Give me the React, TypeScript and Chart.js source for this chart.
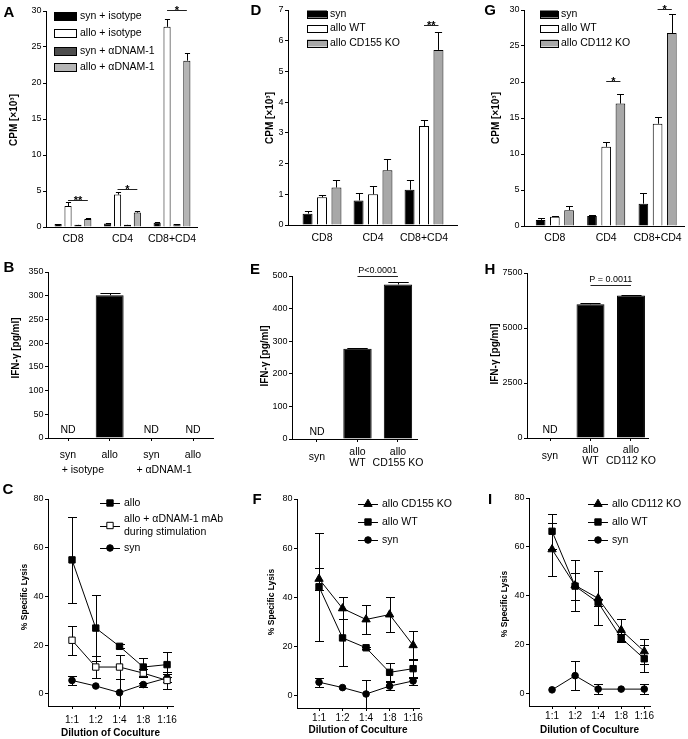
import React, { useEffect, useRef } from 'react';
import { Chart, registerables } from 'chart.js';

Chart.register(...registerables);

const FONT = '"Liberation Sans", Arial, Helvetica, sans-serif';
Chart.defaults.font.family = FONT;
Chart.defaults.color = '#000';

/* ---------------- shared tick labels ---------------- */
const groupCategories = ['CD8', 'CD4', 'CD8+CD4'];
const dilutionLabels = ['1:1', '1:2', '1:4', '1:8', '1:16'];
const lysisTicks = [0, 20, 40, 60, 80];

/* ---------------- Panel A ---------------- */
const aSeriesLabels = ['syn + isotype', 'allo + isotype', 'syn + αDNAM-1', 'allo + αDNAM-1'];
const aSynIsotype = [0.4, 0.5, 0.6];
const aSynIsotypeErr = [0.05, 0.05, 0.1];
const aAlloIsotype = [2.9, 4.5, 27.8];
const aAlloIsotypeErr = [0.55, 0.35, 1.1];
const aSynDnam = [0.3, 0.3, 0.4];
const aSynDnamErr = [0.03, 0.03, 0.05];
const aAlloDnam = [1.1, 2.0, 23.1];
const aAlloDnamErr = [0.1, 0.2, 1.0];
const aYTicks = [0, 5, 10, 15, 20, 25, 30];
const aStars = [
  { from: [1, 0], to: [3, 0], y: 3.7, text: '**' },
  { from: [1, 1], to: [3, 1], y: 5.3, text: '*' },
  { from: [1, 2], to: [3, 2], y: 30.1, text: '*' },
];

/* ---------------- Panel D ---------------- */
const dSeriesLabels = ['syn', 'allo WT', 'allo CD155 KO'];
const dSyn = [0.37, 0.8, 1.15];
const dSynErr = [0.07, 0.25, 0.3];
const dAlloWT = [0.9, 1.0, 3.22];
const dAlloWTErr = [0.07, 0.28, 0.2];
const dAlloKO = [1.22, 1.78, 5.7];
const dAlloKOErr = [0.25, 0.38, 0.58];
const dYTicks = [0, 1, 2, 3, 4, 5, 6, 7];
const dStars = [{ from: [1, 2], to: [2, 2], y: 6.5, text: '**' }];

/* ---------------- Panel G ---------------- */
const gSeriesLabels = ['syn', 'allo WT', 'allo CD112 KO'];
const gSyn = [0.85, 1.4, 3.1];
const gSynErr = [0.3, 0.1, 1.5];
const gAlloWT = [1.3, 11.0, 14.2];
const gAlloWTErr = [0.1, 0.6, 0.9];
const gAlloKO = [2.2, 17.0, 26.8];
const gAlloKOErr = [0.6, 1.4, 2.7];
const gYTicks = [0, 5, 10, 15, 20, 25, 30];
const gStars = [
  { from: [1, 1], to: [2, 1], y: 20.2, text: '*' },
  { from: [1, 2], to: [2, 2], y: 30.2, text: '*' },
];

/* ---------------- Panel B ---------------- */
const bCategories = ['syn', 'allo', 'syn', 'allo'];
const bGroupLabels = ['+ isotype', '+ αDNAM-1'];
const bIfn = [null, 301, null, null];
const bIfnErr = [0, 4, 0, 0];
const bYTicks = [0, 50, 100, 150, 200, 250, 300, 350];

/* ---------------- Panel E ---------------- */
const eCategories = ['syn', ['allo', 'WT'], ['allo', 'CD155 KO']];
const eIfn = [null, 277, 474];
const eIfnErr = [0, 3, 7];
const eYTicks = [0, 100, 200, 300, 400, 500];
const ePValue = [{ from: [0, 1], to: [0, 2], y: 500, text: 'P<0.0001' }];

/* ---------------- Panel H ---------------- */
const hCategories = ['syn', ['allo', 'WT'], ['allo', 'CD112 KO']];
const hIfn = [null, 6080, 6480];
const hIfnErr = [0, 70, 25];
const hYTicks = [0, 2500, 5000, 7500];
const hPValue = [{ from: [0, 1], to: [0, 2], y: 6950, text: 'P = 0.0011' }];

/* ---------------- Panel C ---------------- */
const cSeriesLabels = ['allo', 'allo + αDNAM-1 mAb\nduring stimulation', 'syn'];
const cAllo = [55, 27, 19.5, 11, 12];
const cAlloErr = [17.5, 13.5, 0.8, 3.7, 5];
const cAlloDnam = [22, 11, 11, 8.5, 5.5];
const cAlloDnamErr = [6, 4.5, 5, 1.5, 3.5];
const cSyn = [5.5, 3.2, 0.5, 3.8, 6.5];
const cSynErr = [2, 0, 5.5, 0.8, 1.5];

/* ---------------- Panel F ---------------- */
const fSeriesLabels = ['allo CD155 KO', 'allo WT', 'syn'];
const fAlloKO = [47.5, 35.5, 31, 33, 20.5];
const fAlloKOErr = [4.6, 4.5, 6, 7, 5.8];
const fAlloWT = [44.3, 23.5, 19.5, 9.5, 11];
const fAlloWTErr = [22, 11.5, 0.5, 3.7, 4];
const fSyn = [5.5, 3.3, 0.7, 3.9, 6];
const fSynErr = [1.8, 0, 5.5, 1.5, 1.8];

/* ---------------- Panel I ---------------- */
const iSeriesLabels = ['allo CD112 KO', 'allo WT', 'syn'];
const iAlloKO = [59, 44.3, 39, 26, 17.3];
const iAlloKOErr = [10.8, 10.4, 11, 4.6, 5];
const iAlloWT = [66.4, 44, 37.3, 22.8, 14.3];
const iAlloWTErr = [7.2, 5.5, 1.5, 1.5, 5.5];
const iSyn = [1.6, 7.4, 1.9, 1.9, 1.9];
const iSynErr = [0, 6, 2.2, 0, 2];

/* ---------------- helpers ---------------- */
type Box = { x: number; y: number; w: number; h: number };
type Area = { l: number; t: number; r: number; b: number };

function drawMarker(ctx: any, style: string, x: number, y: number, r: number, fill: string) {
  ctx.beginPath();
  if (style === 'rect') {
    const s = Math.SQRT1_2 * r;
    ctx.rect(x - s, y - s, 2 * s, 2 * s);
  } else if (style === 'triangle') {
    let rad = 0;
    ctx.moveTo(x + Math.sin(rad) * r, y - Math.cos(rad) * r);
    rad += (2 * Math.PI) / 3;
    ctx.lineTo(x + Math.sin(rad) * r, y - Math.cos(rad) * r);
    rad += (2 * Math.PI) / 3;
    ctx.lineTo(x + Math.sin(rad) * r, y - Math.cos(rad) * r);
    ctx.closePath();
  } else {
    ctx.arc(x, y, r, 0, Math.PI * 2);
  }
  ctx.fillStyle = fill;
  ctx.fill();
  ctx.lineWidth = 1;
  ctx.strokeStyle = '#000';
  ctx.stroke();
}

function drawErrors(chart: any, type: string) {
  const ctx = chart.ctx;
  const ys = chart.scales.y;
  const a = chart.chartArea;
  ctx.save();
  ctx.beginPath();
  ctx.rect(a.left - 20, 0, a.right - a.left + 40, a.bottom);
  ctx.clip();
  ctx.strokeStyle = '#000';
  ctx.lineWidth = 1;
  chart.data.datasets.forEach((ds: any, di: number) => {
    const errs = ds.errors;
    if (!errs) return;
    const meta = chart.getDatasetMeta(di);
    if (meta.type !== type) return;
    meta.data.forEach((el: any, i: number) => {
      const v = ds.data[i].y;
      const e = errs[i];
      if (v == null || !e) return;
      const x = Math.round(el.x) + 0.5;
      const yv = ys.getPixelForValue(v);
      const yt = Math.round(ys.getPixelForValue(v + e)) + 0.5;
      const yb = Math.round(ys.getPixelForValue(v - e)) + 0.5;
      ctx.beginPath();
      if (type === 'bar') {
        const hw = el.width * 0.36;
        ctx.moveTo(x, yv);
        ctx.lineTo(x, yt);
        ctx.moveTo(x - hw, yt);
        ctx.lineTo(x + hw, yt);
      } else {
        const hw = 4.5;
        ctx.moveTo(x, yb);
        ctx.lineTo(x, yt);
        ctx.moveTo(x - hw, yt);
        ctx.lineTo(x + hw, yt);
        ctx.moveTo(x - hw, yb);
        ctx.lineTo(x + hw, yb);
      }
      ctx.stroke();
    });
  });
  ctx.restore();
}

function makeDecor(d: any) {
  const ox = d.box.x;
  const oy = d.box.y;
  return {
    id: 'decor',
    beforeDatasetsDraw(chart: any) {
      drawErrors(chart, 'line');
    },
    afterDatasetsDraw(chart: any) {
      drawErrors(chart, 'bar');
    },
    afterDraw(chart: any) {
      const ctx = chart.ctx;
      const xs = chart.scales.x;
      const ys = chart.scales.y;
      const area = chart.chartArea;
      ctx.save();
      ctx.fillStyle = '#000';
      ctx.strokeStyle = '#000';
      // panel letter
      ctx.font = `bold 15px ${FONT}`;
      ctx.textAlign = 'center';
      ctx.textBaseline = 'alphabetic';
      ctx.fillText(d.letter.text, d.letter.x - ox, d.letter.y - oy + 5.5);
      // y title
      ctx.save();
      ctx.translate(d.yTitle.x - ox, d.yTitle.y - oy);
      ctx.rotate(-Math.PI / 2);
      ctx.font = `bold ${d.yTitle.size}px ${FONT}`;
      ctx.textAlign = 'center';
      ctx.textBaseline = 'middle';
      ctx.fillText(d.yTitle.text, 0, 0);
      ctx.restore();
      // legend
      if (d.legend) {
        const L = d.legend;
        chart.data.datasets.forEach((ds: any, di: number) => {
          const meta = chart.getDatasetMeta(di);
          const cy = L.rows[di] - oy;
          if (meta.type === 'bar') {
            const x0 = L.x0 - ox;
            ctx.fillStyle = ds.backgroundColor;
            ctx.fillRect(x0, cy - L.boxH / 2, L.x1 - L.x0, L.boxH);
            ctx.lineWidth = 1;
            ctx.strokeStyle = '#000';
            ctx.strokeRect(Math.round(x0) + 0.5, Math.round(cy - L.boxH / 2) + 0.5, L.x1 - L.x0, L.boxH);
          } else {
            ctx.lineWidth = 1;
            ctx.strokeStyle = '#000';
            ctx.beginPath();
            ctx.moveTo(L.x0 - ox, Math.round(cy) + 0.5);
            ctx.lineTo(L.x1 - ox, Math.round(cy) + 0.5);
            ctx.stroke();
            drawMarker(ctx, ds.pointStyle, (L.x0 + L.x1) / 2 - ox, cy, ds.pointRadius, ds.pointBackgroundColor);
          }
          ctx.fillStyle = '#000';
          ctx.font = `10.5px ${FONT}`;
          ctx.textAlign = 'left';
          ctx.textBaseline = 'middle';
          const lines = String(ds.label).split('\n');
          lines.forEach((t: string, li: number) => {
            ctx.fillText(t, L.textX - ox, cy + (li - (lines.length - 1) / 2) * L.lineGap);
          });
        });
      }
      // significance brackets
      (d.brackets || []).forEach((b: any) => {
        const e1 = chart.getDatasetMeta(b.from[0]).data[b.from[1]];
        const e2 = chart.getDatasetMeta(b.to[0]).data[b.to[1]];
        const y = Math.round(ys.getPixelForValue(b.y)) + 0.5;
        ctx.strokeStyle = '#222';
        ctx.lineWidth = 1;
        ctx.beginPath();
        ctx.moveTo(e1.x, y);
        ctx.lineTo(e2.x, y);
        ctx.stroke();
        ctx.fillStyle = '#000';
        ctx.font = `${d.bracketFont} ${FONT}`;
        ctx.textAlign = 'center';
        ctx.textBaseline = 'alphabetic';
        ctx.fillText(b.text, (e1.x + e2.x) / 2, y + d.bracketDy);
      });
      // not detected labels
      if (d.nd) {
        const ds = chart.data.datasets[0];
        ctx.fillStyle = '#000';
        ctx.font = `10.5px ${FONT}`;
        ctx.textAlign = 'center';
        ctx.textBaseline = 'middle';
        ds.data.forEach((pt: any, i: number) => {
          if (pt.y == null) ctx.fillText('ND', xs.getPixelForValue(i), area.bottom - d.nd.dy);
        });
      }
      // group labels under categories
      (d.groups || []).forEach((g: any) => {
        ctx.fillStyle = '#000';
        ctx.font = `10.5px ${FONT}`;
        ctx.textAlign = 'center';
        ctx.textBaseline = 'middle';
        const x = (xs.getPixelForValue(g.from) + xs.getPixelForValue(g.to)) / 2 + g.shift;
        ctx.fillText(g.text, x, g.y - oy);
      });
      ctx.restore();
    },
  };
}

function xAxis(o: any) {
  return {
    type: 'linear',
    position: 'bottom',
    bounds: 'data',
    min: o.min,
    max: o.max,
    offset: false,
    afterBuildTicks: (s: any) => {
      s.ticks = o.labels.map((_: any, i: number) => ({ value: i }));
    },
    afterFit: (s: any) => {
      s.height = o.height;
    },
    grid: {
      display: true,
      offset: false,
      drawOnChartArea: false,
      drawTicks: o.drawTicks,
      tickLength: 3,
      tickWidth: 1,
      tickColor: '#000',
      color: '#000',
    },
    border: { display: true, color: '#000', width: 1 },
    ticks: {
      autoSkip: false,
      maxRotation: 0,
      minRotation: 0,
      padding: o.pad,
      crossAlign: o.crossAlign || 'near',
      color: '#000',
      font: { size: o.fontSize, lineHeight: o.lineHeight || 1.2 },
      callback: (_v: any, i: number) => o.labels[i],
    },
    title: o.title
      ? {
          display: true,
          text: o.title,
          color: '#000',
          font: { size: 10, weight: 'bold' },
          padding: { top: 0, bottom: o.titlePad },
        }
      : { display: false },
  };
}

function yAxis(o: any) {
  return {
    type: 'linear',
    position: 'left',
    bounds: 'data',
    min: o.min,
    max: o.max,
    afterBuildTicks: (s: any) => {
      s.ticks = o.ticks.map((v: number) => ({ value: v }));
    },
    afterFit: (s: any) => {
      s.width = o.width;
    },
    grid: {
      display: true,
      drawOnChartArea: false,
      drawTicks: true,
      tickLength: 3,
      tickWidth: 1,
      tickColor: '#000',
      color: '#000',
    },
    border: { display: true, color: '#000', width: 1 },
    ticks: {
      padding: 1.5,
      color: '#000',
      font: { size: 9 },
      callback: (v: any) => String(v),
    },
  };
}

function baseOptions(box: Box, area: Area, scales: any) {
  return {
    responsive: false,
    maintainAspectRatio: false,
    animation: false,
    devicePixelRatio: 1,
    events: [],
    layout: {
      autoPadding: false,
      padding: { top: area.t - box.y, right: box.x + box.w - area.r, bottom: 0, left: 0 },
    },
    plugins: { legend: { display: false }, tooltip: { enabled: false }, title: { display: false } },
    scales,
  };
}

function barSpec(p: any) {
  const { box, area } = p;
  return {
    box,
    build: () => ({
      type: 'bar',
      data: {
        datasets: p.series.map((s: any) => ({
          type: 'bar',
          label: s.label,
          data: s.values.map((v: any, i: number) => ({ x: i, y: v })),
          errors: s.errors,
          backgroundColor: s.color,
          borderColor: '#000',
          borderWidth: 1,
          borderSkipped: 'start',
          categoryPercentage: p.catPct,
          barPercentage: p.barPct,
        })),
      },
      options: baseOptions(box, area, {
        x: xAxis({
          min: p.xMin,
          max: p.xMax,
          labels: p.categories,
          height: box.y + box.h - area.b,
          drawTicks: p.xTicks,
          pad: p.xPad,
          crossAlign: p.crossAlign,
          fontSize: 10.5,
          lineHeight: p.lineHeight,
        }),
        y: yAxis({ min: p.yTicks[0], max: p.yTicks[p.yTicks.length - 1], ticks: p.yTicks, width: area.l - box.x }),
      }),
      plugins: [makeDecor({ ...p.decor, box })],
    }),
  };
}

function lineSpec(p: any) {
  const { box, area } = p;
  return {
    box,
    build: () => ({
      type: 'line',
      data: {
        datasets: p.series.map((s: any) => ({
          type: 'line',
          label: s.label,
          data: s.values.map((v: number, i: number) => ({ x: i, y: v })),
          errors: s.errors,
          borderColor: '#000',
          borderWidth: 1,
          tension: 0,
          fill: false,
          pointStyle: s.style,
          pointRadius: s.radius,
          pointBackgroundColor: s.fill,
          pointBorderColor: '#000',
          pointBorderWidth: 1,
        })),
      },
      options: baseOptions(box, area, {
        x: xAxis({
          min: p.xMin,
          max: 4.25,
          labels: dilutionLabels,
          height: box.y + box.h - area.b,
          drawTicks: true,
          pad: p.xPad,
          fontSize: 10,
          title: 'Dilution of Coculture',
          titlePad: p.titlePad,
        }),
        y: yAxis({ min: -5, max: 80, ticks: lysisTicks, width: area.l - box.x }),
      }),
      plugins: [makeDecor({ ...p.decor, box })],
    }),
  };
}

const BLACK = '#000000';
const WHITE = '#ffffff';
const DARK = '#4d4d4d';
const LIGHT = '#b5b5b5';
const GRAY = '#a8a8a8';

const starDecor = { bracketFont: 'bold 11px', bracketDy: 3 };
const pDecor = { bracketFont: '9px', bracketDy: -4 };

const specs = [
  barSpec({
    box: { x: 0, y: 0, w: 230, h: 250 },
    area: { l: 46, t: 11, r: 197, b: 227 },
    categories: groupCategories,
    series: [
      { label: aSeriesLabels[0], values: aSynIsotype, errors: aSynIsotypeErr, color: BLACK },
      { label: aSeriesLabels[1], values: aAlloIsotype, errors: aAlloIsotypeErr, color: WHITE },
      { label: aSeriesLabels[2], values: aSynDnam, errors: aSynDnamErr, color: DARK },
      { label: aSeriesLabels[3], values: aAlloDnam, errors: aAlloDnamErr, color: LIGHT },
    ],
    xMin: -0.545,
    xMax: 2.505,
    yTicks: aYTicks,
    catPct: 0.8,
    barPct: 0.72,
    xTicks: false,
    xPad: 6,
    decor: {
      letter: { text: 'A', x: 9, y: 11 },
      yTitle: { text: 'CPM [×10³]', x: 14, y: 120, size: 10 },
      legend: { x0: 54, x1: 76, textX: 80, rows: [16, 33, 51, 67], boxH: 8, lineGap: 12 },
      brackets: aStars,
      ...starDecor,
    },
  }),
  barSpec({
    box: { x: 230, y: 0, w: 228, h: 250 },
    area: { l: 288, t: 10, r: 457, b: 225 },
    categories: groupCategories,
    series: [
      { label: dSeriesLabels[0], values: dSyn, errors: dSynErr, color: BLACK },
      { label: dSeriesLabels[1], values: dAlloWT, errors: dAlloWTErr, color: WHITE },
      { label: dSeriesLabels[2], values: dAlloKO, errors: dAlloKOErr, color: GRAY },
    ],
    xMin: -0.667,
    xMax: 2.647,
    yTicks: dYTicks,
    catPct: 0.85,
    barPct: 0.69,
    xTicks: false,
    xPad: 7,
    decor: {
      letter: { text: 'D', x: 256, y: 9 },
      yTitle: { text: 'CPM [×10³]', x: 270, y: 118, size: 10 },
      legend: { x0: 307, x1: 327, textX: 330, rows: [14, 28, 43], boxH: 7, lineGap: 12 },
      brackets: dStars,
      ...starDecor,
    },
  }),
  barSpec({
    box: { x: 458, y: 0, w: 230, h: 250 },
    area: { l: 524, t: 10, r: 686, b: 226 },
    categories: groupCategories,
    series: [
      { label: gSeriesLabels[0], values: gSyn, errors: gSynErr, color: BLACK },
      { label: gSeriesLabels[1], values: gAlloWT, errors: gAlloWTErr, color: WHITE },
      { label: gSeriesLabels[2], values: gAlloKO, errors: gAlloKOErr, color: GRAY },
    ],
    xMin: -0.6,
    xMax: 2.53,
    yTicks: gYTicks,
    catPct: 0.83,
    barPct: 0.68,
    xTicks: false,
    xPad: 6,
    decor: {
      letter: { text: 'G', x: 490, y: 9 },
      yTitle: { text: 'CPM [×10³]', x: 496, y: 118, size: 10 },
      legend: { x0: 540, x1: 558, textX: 561, rows: [14, 28, 43], boxH: 7, lineGap: 12 },
      brackets: gStars,
      ...starDecor,
    },
  }),
  barSpec({
    box: { x: 0, y: 250, w: 230, h: 230 },
    area: { l: 48, t: 272, r: 213, b: 438 },
    categories: bCategories,
    series: [{ label: 'IFN-γ', values: bIfn, errors: bIfnErr, color: BLACK }],
    xMin: -0.48,
    xMax: 3.48,
    yTicks: bYTicks,
    catPct: 1,
    barPct: 0.67,
    xTicks: true,
    xPad: 7.5,
    decor: {
      letter: { text: 'B', x: 9, y: 266 },
      yTitle: { text: 'IFN-γ [pg/ml]', x: 16, y: 348, size: 10 },
      nd: { dy: 8 },
      groups: [
        { text: bGroupLabels[0], from: 0, to: 1, y: 470, shift: -6 },
        { text: bGroupLabels[1], from: 2, to: 3, y: 470, shift: -8 },
      ],
      ...pDecor,
    },
  }),
  barSpec({
    box: { x: 230, y: 250, w: 228, h: 230 },
    area: { l: 292, t: 276, r: 417, b: 439 },
    categories: eCategories,
    series: [{ label: 'IFN-γ', values: eIfn, errors: eIfnErr, color: BLACK }],
    xMin: -0.617,
    xMax: 2.47,
    yTicks: eYTicks,
    catPct: 1,
    barPct: 0.7,
    xTicks: true,
    xPad: 9.7,
    crossAlign: 'center',
    lineHeight: 1.1,
    decor: {
      letter: { text: 'E', x: 255, y: 268 },
      yTitle: { text: 'IFN-γ [pg/ml]', x: 265, y: 356, size: 10 },
      nd: { dy: 7 },
      brackets: ePValue,
      ...pDecor,
    },
  }),
  barSpec({
    box: { x: 458, y: 250, w: 230, h: 230 },
    area: { l: 527, t: 273, r: 648, b: 438 },
    categories: hCategories,
    series: [{ label: 'IFN-γ', values: hIfn, errors: hIfnErr, color: BLACK }],
    xMin: -0.568,
    xMax: 2.42,
    yTicks: hYTicks,
    catPct: 1,
    barPct: 0.69,
    xTicks: true,
    xPad: 9,
    crossAlign: 'center',
    lineHeight: 1.1,
    decor: {
      letter: { text: 'H', x: 490, y: 268 },
      yTitle: { text: 'IFN-γ [pg/ml]', x: 495, y: 354, size: 10 },
      nd: { dy: 8 },
      brackets: hPValue,
      ...pDecor,
    },
  }),
  lineSpec({
    box: { x: 0, y: 480, w: 230, h: 259 },
    area: { l: 48, t: 499, r: 173, b: 706 },
    series: [
      { label: cSeriesLabels[0], values: cAllo, errors: cAlloErr, style: 'rect', radius: 4.5, fill: BLACK },
      { label: cSeriesLabels[1], values: cAlloDnam, errors: cAlloDnamErr, style: 'rect', radius: 4.5, fill: WHITE },
      { label: cSeriesLabels[2], values: cSyn, errors: cSynErr, style: 'circle', radius: 3.3, fill: BLACK },
    ],
    xMin: -1.01,
    xPad: 5,
    titlePad: 0,
    decor: {
      letter: { text: 'C', x: 8, y: 488 },
      yTitle: { text: '% Specific Lysis', x: 25, y: 597, size: 8.5 },
      legend: { x0: 100, x1: 120, textX: 124, rows: [503, 525.5, 548], lineGap: 12.5 },
    },
  }),
  lineSpec({
    box: { x: 230, y: 480, w: 228, h: 259 },
    area: { l: 297, t: 499, r: 419, b: 708 },
    series: [
      { label: fSeriesLabels[0], values: fAlloKO, errors: fAlloKOErr, style: 'triangle', radius: 4.8, fill: BLACK },
      { label: fSeriesLabels[1], values: fAlloWT, errors: fAlloWTErr, style: 'rect', radius: 4.5, fill: BLACK },
      { label: fSeriesLabels[2], values: fSyn, errors: fSynErr, style: 'circle', radius: 3.3, fill: BLACK },
    ],
    xMin: -0.936,
    xPad: 1,
    titlePad: 3,
    decor: {
      letter: { text: 'F', x: 257, y: 498 },
      yTitle: { text: '% Specific Lysis', x: 272, y: 602, size: 8.5 },
      legend: { x0: 358, x1: 378, textX: 382, rows: [504, 522, 540], lineGap: 12.5 },
    },
  }),
  lineSpec({
    box: { x: 458, y: 480, w: 230, h: 259 },
    area: { l: 529, t: 498, r: 650, b: 706 },
    series: [
      { label: iSeriesLabels[0], values: iAlloKO, errors: iAlloKOErr, style: 'triangle', radius: 4.8, fill: BLACK },
      { label: iSeriesLabels[1], values: iAlloWT, errors: iAlloWTErr, style: 'rect', radius: 4.5, fill: BLACK },
      { label: iSeriesLabels[2], values: iSyn, errors: iSynErr, style: 'circle', radius: 3.3, fill: BLACK },
    ],
    xMin: -1.0,
    xPad: 1.5,
    titlePad: 3,
    decor: {
      letter: { text: 'I', x: 490, y: 498 },
      yTitle: { text: '% Specific Lysis', x: 505, y: 604, size: 8.5 },
      legend: { x0: 588, x1: 608, textX: 612, rows: [504, 522, 540], lineGap: 12.5 },
    },
  }),
];

function ChartPanel({ spec }: { spec: any }) {
  const ref = useRef<HTMLCanvasElement | null>(null);
  useEffect(() => {
    if (!ref.current) return;
    const chart = new Chart(ref.current, spec.build());
    return () => chart.destroy();
  }, [spec]);
  const b = spec.box;
  return (
    <canvas
      ref={ref}
      width={b.w}
      height={b.h}
      style={{ position: 'absolute', left: b.x, top: b.y, width: b.w, height: b.h }}
    />
  );
}

export default function App() {
  return (
    <div
      style={{
        position: 'absolute',
        left: 0,
        top: 0,
        width: 688,
        height: 739,
        background: '#fff',
        overflow: 'hidden',
      }}
    >
      {specs.map((s, i) => (
        <ChartPanel key={i} spec={s} />
      ))}
    </div>
  );
}
